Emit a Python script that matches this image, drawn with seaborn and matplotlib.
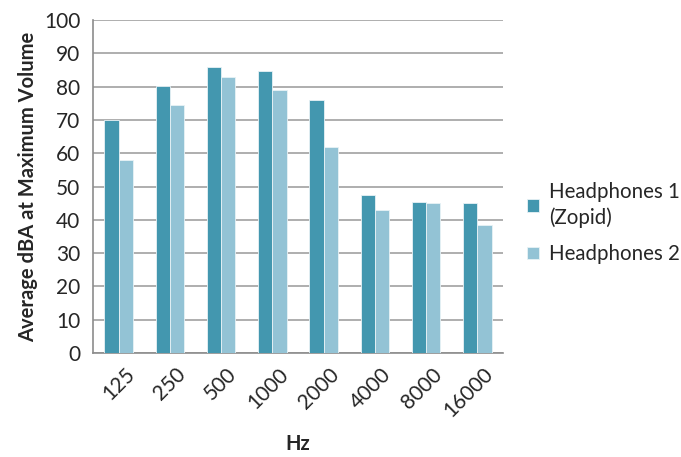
import matplotlib
matplotlib.use("Agg")
import matplotlib.pyplot as plt
import seaborn as sns
import pandas as pd
import numpy as np

freqs = ["125", "250", "500", "1000", "2000", "4000", "8000", "16000"]
headphones1 = [70.0, 80.2, 86.0, 84.6, 76.1, 47.4, 45.4, 45.1]
headphones2 = [58.1, 74.5, 83.0, 79.0, 61.9, 43.1, 45.1, 38.4]
series_names = ["Headphones 1\n(Zopid)", "Headphones 2"]
colors = ["#4397AF", "#93C3D5"]

df = pd.DataFrame({
    "Hz": freqs * 2,
    "value": headphones1 + headphones2,
    "series": [series_names[0]] * len(freqs) + [series_names[1]] * len(freqs),
})

sns.set_style("white")
plt.rcParams["font.family"] = ["Lato", "DejaVu Sans"]

fig = plt.figure(figsize=(6.81, 4.57), dpi=100)
ax = fig.add_axes([0.1366, 0.2276, 0.602, 0.7284])

sns.barplot(data=df, x="Hz", y="value", hue="series", order=freqs,
            hue_order=series_names, palette=colors, width=0.56, saturation=1,
            edgecolor="#E8F2F6", linewidth=0.6, ax=ax, zorder=3)

ax.set_ylim(0, 100)
ax.set_xlim(-0.5, len(freqs) - 0.5)
ax.set_yticks(np.arange(0, 101, 10))
ax.yaxis.grid(True, color="#A8A8A8", linewidth=1.3, zorder=0)
ax.set_axisbelow(True)
for s in ["top", "right"]:
    ax.spines[s].set_visible(False)
for s in ["left", "bottom"]:
    ax.spines[s].set_color("#8C8C8C")
    ax.spines[s].set_linewidth(1.2)

ax.tick_params(axis="y", length=5, color="#8C8C8C", width=1.2, labelsize=15, pad=4)
ax.tick_params(axis="x", which="major", length=0, labelsize=15, pad=8)
ax.set_xticks(np.arange(-0.5, len(freqs) + 0.5, 1), minor=True)
ax.tick_params(axis="x", which="minor", length=5, color="#8C8C8C", width=1.2)
plt.setp(ax.get_xticklabels(), rotation=45, ha="right", rotation_mode="anchor")
for lab in ax.get_xticklabels():
    lab.set_transform(lab.get_transform() + matplotlib.transforms.ScaledTranslation(4/72, 0, fig.dpi_scale_trans))

ax.set_xlabel("Hz", fontsize=14.5, fontweight="bold", labelpad=9)
ax.set_ylabel("Average dBA at Maximum Volume", fontsize=14.5, fontweight="bold", labelpad=4)

leg = ax.legend(loc="center left", bbox_to_anchor=(1.034, 0.39), frameon=False,
                fontsize=14.8, handlelength=0.55, handleheight=0.55,
                handletextpad=0.5, labelspacing=0.8, borderpad=0.2,
                borderaxespad=0.3)
for t in leg.get_texts():
    t.set_linespacing(1.3)

fig.savefig("out.png", dpi=100)
